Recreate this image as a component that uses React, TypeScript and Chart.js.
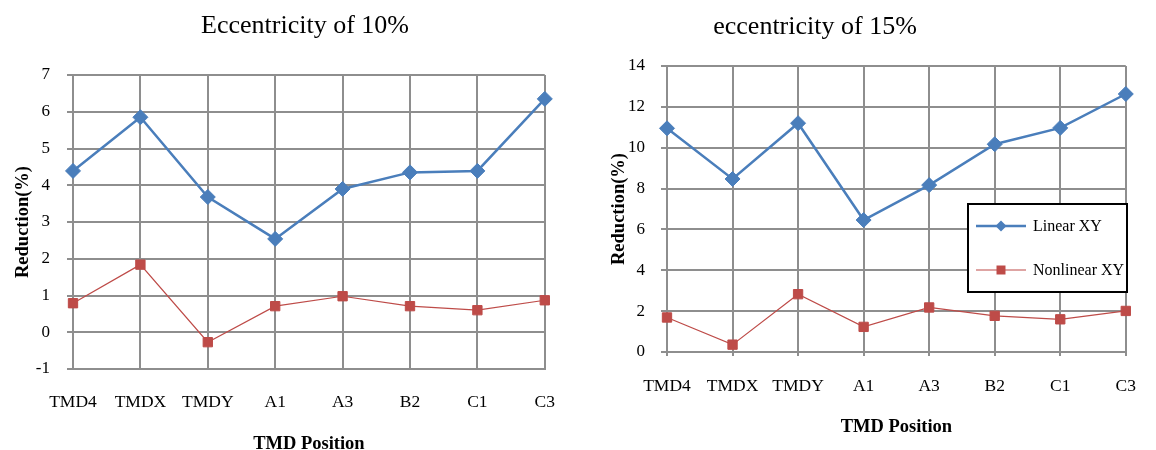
import React, { useEffect, useRef } from 'react';
import { Chart, registerables } from 'chart.js';

Chart.register(...registerables);

// TMD positions along the x axis
const categories = ['TMD4', 'TMDX', 'TMDY', 'A1', 'A3', 'B2', 'C1', 'C3'];

// Reduction (%) at 10% eccentricity
const linear10 = [4.39, 5.85, 3.68, 2.54, 3.9, 4.35, 4.39, 6.35];
const nonlinear10 = [0.79, 1.84, -0.27, 0.71, 0.98, 0.71, 0.6, 0.87];

// Reduction (%) at 15% eccentricity
const linear15 = [10.95, 8.47, 11.2, 6.46, 8.17, 10.17, 10.97, 12.63];
const nonlinear15 = [1.69, 0.36, 2.83, 1.23, 2.18, 1.77, 1.6, 2.01];

const seriesNames = ['Linear XY', 'Nonlinear XY'];

const SERIF = "'Liberation Serif', 'Times New Roman', Times, serif";
const BLUE = '#4a7ebb';
const RED = '#be4b48';
const GRID = '#8e8e8e';

const CANVAS_W = 578;
const CANVAS_H = 460;

// Draws a chart heading at a fixed spot on the canvas
const headingPlugin = {
  id: 'heading',
  afterDraw(chart: any, _args: any, opts: any) {
    if (!opts || !opts.text) return;
    const ctx = chart.ctx;
    ctx.save();
    ctx.font = `${opts.size}px ${SERIF}`;
    ctx.fillStyle = '#000';
    ctx.textAlign = 'center';
    ctx.textBaseline = 'alphabetic';
    ctx.fillText(opts.text, opts.x, opts.y);
    ctx.restore();
  },
};

function drawMarker(ctx: CanvasRenderingContext2D, style: string, x: number, y: number, r: number, color: string) {
  ctx.fillStyle = color;
  ctx.beginPath();
  if (style === 'rectRot') {
    ctx.moveTo(x, y - r);
    ctx.lineTo(x + r, y);
    ctx.lineTo(x, y + r);
    ctx.lineTo(x - r, y);
    ctx.closePath();
  } else {
    ctx.rect(x - r, y - r, 2 * r, 2 * r);
  }
  ctx.fill();
}

// Boxed legend laid over the plot area
const boxLegendPlugin = {
  id: 'boxLegend',
  afterDraw(chart: any, _args: any, opts: any) {
    if (!opts || !opts.display) return;
    const ctx: CanvasRenderingContext2D = chart.ctx;
    const { x, y, width, height, firstRow, rowGap, sampleX, sampleW, textX } = opts;
    ctx.save();
    ctx.fillStyle = '#fff';
    ctx.fillRect(x, y, width, height);
    ctx.strokeStyle = '#000';
    ctx.lineWidth = 2;
    ctx.strokeRect(x, y, width, height);
    chart.data.datasets.forEach((ds: any, i: number) => {
      const cy = y + firstRow + i * rowGap;
      ctx.strokeStyle = ds.borderColor;
      ctx.lineWidth = ds.borderWidth;
      ctx.beginPath();
      ctx.moveTo(x + sampleX, cy);
      ctx.lineTo(x + sampleX + sampleW, cy);
      ctx.stroke();
      const mr = ds.pointStyle === 'rectRot' ? 5.5 : 4.5;
      drawMarker(ctx, ds.pointStyle, x + sampleX + sampleW / 2, cy, mr, ds.borderColor);
      ctx.fillStyle = '#000';
      ctx.font = `16px ${SERIF}`;
      ctx.textAlign = 'left';
      ctx.textBaseline = 'middle';
      ctx.fillText(ds.label, x + textX, cy + 1);
    });
    ctx.restore();
  },
};

type Panel = {
  linear: number[];
  nonlinear: number[];
  heading: string;
  headingX: number;
  headingY: number;
  yMin: number;
  yMax: number;
  yStep: number;
  padTop: number;
  padRight: number;
  yAxisWidth: number;
  xAxisHeight: number;
  xTickLength: number;
  xTickPad: number;
  yTickPad: number;
  yTitlePad: number;
  xTitlePad: number;
  legend: any;
};

function buildConfig(p: Panel): any {
  return {
    type: 'line',
    data: {
      labels: categories,
      datasets: [
        {
          label: seriesNames[0],
          data: p.linear,
          borderColor: BLUE,
          backgroundColor: BLUE,
          borderWidth: 2.5,
          pointStyle: 'rectRot',
          pointRadius: 7.5,
          pointBorderWidth: 1,
          pointBackgroundColor: BLUE,
          pointBorderColor: BLUE,
          tension: 0,
        },
        {
          label: seriesNames[1],
          data: p.nonlinear,
          borderColor: RED,
          backgroundColor: RED,
          borderWidth: 1.2,
          pointStyle: 'rect',
          pointRadius: 6.6,
          pointBorderWidth: 1,
          pointBackgroundColor: RED,
          pointBorderColor: RED,
          tension: 0,
        },
      ],
    },
    plugins: [headingPlugin, boxLegendPlugin],
    options: {
      responsive: false,
      animation: false,
      devicePixelRatio: 1,
      layout: { padding: { top: p.padTop, right: p.padRight, left: 0, bottom: 0 } },
      plugins: {
        legend: { display: false },
        tooltip: { enabled: false },
        heading: { text: p.heading, x: p.headingX, y: p.headingY, size: 26 },
        boxLegend: p.legend,
      },
      scales: {
        x: {
          type: 'category',
          offset: false,
          grid: { color: GRID, lineWidth: 2, tickLength: p.xTickLength },
          border: { color: GRID, width: 2 },
          ticks: {
            color: '#000',
            font: { family: SERIF, size: 17.5 },
            padding: p.xTickPad,
            maxRotation: 0,
            autoSkip: false,
          },
          title: {
            display: true,
            text: 'TMD Position',
            color: '#000',
            font: { family: SERIF, size: 18.5, weight: 'bold' },
            padding: { top: 0, bottom: p.xTitlePad },
          },
          afterFit(scale: any) {
            scale.height = p.xAxisHeight;
          },
        },
        y: {
          min: p.yMin,
          max: p.yMax,
          grid: { color: GRID, lineWidth: 2, tickLength: 6 },
          border: { color: GRID, width: 2 },
          ticks: {
            stepSize: p.yStep,
            color: '#000',
            font: { family: SERIF, size: 17 },
            padding: p.yTickPad,
          },
          title: {
            display: true,
            text: 'Reduction(%)',
            color: '#000',
            font: { family: SERIF, size: 18.5, weight: 'bold' },
            padding: { top: p.yTitlePad, bottom: 0 },
          },
          afterFit(scale: any) {
            scale.width = p.yAxisWidth;
          },
        },
      },
    },
  };
}

const leftPanel: Panel = {
  linear: linear10,
  nonlinear: nonlinear10,
  heading: 'Eccentricity of 10%',
  headingX: 305,
  headingY: 33,
  yMin: -1,
  yMax: 7,
  yStep: 1,
  padTop: 75,
  padRight: 33,
  yAxisWidth: 73,
  xAxisHeight: CANVAS_H - 369,
  xTickLength: 0,
  xTickPad: 23,
  yTickPad: 17,
  yTitlePad: 12,
  xTitlePad: 4.5,
  legend: { display: false },
};

const rightPanel: Panel = {
  linear: linear15,
  nonlinear: nonlinear15,
  heading: 'eccentricity of 15%',
  headingX: 237,
  headingY: 34,
  yMin: 0,
  yMax: 14,
  yStep: 2,
  padTop: 66,
  padRight: 13,
  yAxisWidth: 89,
  xAxisHeight: CANVAS_H - 352,
  xTickLength: 4,
  xTickPad: 20,
  yTickPad: 16,
  yTitlePad: 30,
  xTitlePad: 22,
  legend: {
    display: true,
    x: 390,
    y: 204,
    width: 159,
    height: 88,
    firstRow: 22,
    rowGap: 44,
    sampleX: 8,
    sampleW: 50,
    textX: 65,
  },
};

function LineChart({ panel, left }: { panel: Panel; left: number }) {
  const ref = useRef<HTMLCanvasElement | null>(null);
  useEffect(() => {
    if (!ref.current) return;
    const chart = new Chart(ref.current, buildConfig(panel));
    return () => chart.destroy();
  }, [panel]);
  return (
    <canvas
      ref={ref}
      width={CANVAS_W}
      height={CANVAS_H}
      style={{ position: 'absolute', left, top: 0, width: CANVAS_W, height: CANVAS_H }}
    />
  );
}

export default function App() {
  return (
    <div
      style={{
        position: 'absolute',
        left: 0,
        top: 0,
        width: 1156,
        height: 450,
        overflow: 'hidden',
        background: '#fff',
      }}
    >
      <LineChart panel={leftPanel} left={0} />
      <LineChart panel={rightPanel} left={578} />
    </div>
  );
}
